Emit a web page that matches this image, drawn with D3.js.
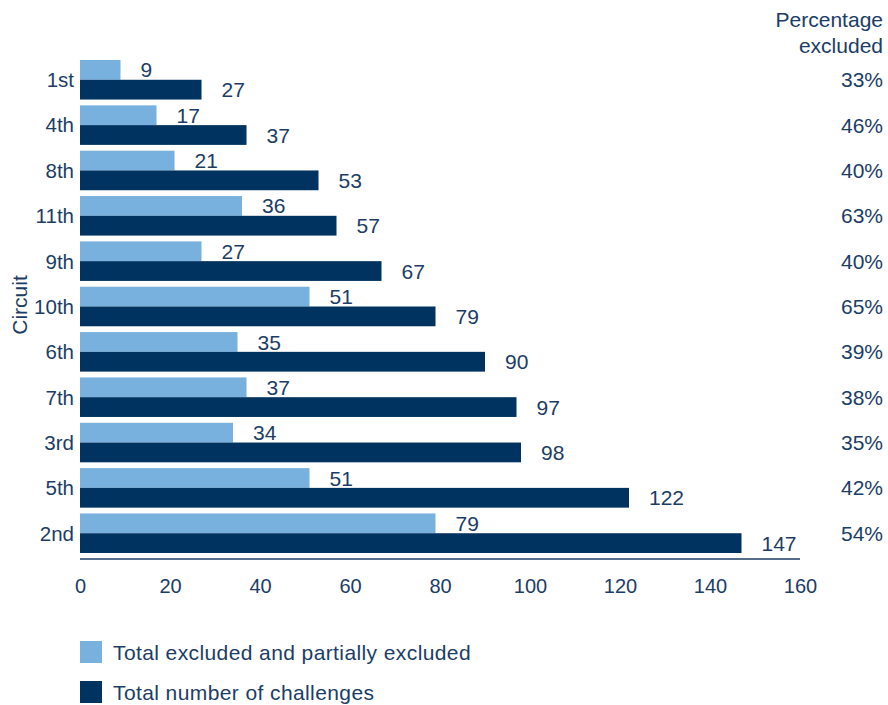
<!DOCTYPE html>
<html>
<head>
<meta charset="utf-8">
<script src="https://cdn.jsdelivr.net/npm/d3@7"></script>
<style>
  html, body { margin: 0; padding: 0; background: #fff; }
  svg { display: block; font-family: "Liberation Sans", Arial, Helvetica, sans-serif; }
</style>
</head>
<body>
<svg id="chart" width="888" height="705"></svg>
<script>
const categories = ["1st", "4th", "8th", "11th", "9th", "10th", "6th", "7th", "3rd", "5th", "2nd"];
const excluded = [9, 17, 21, 36, 27, 51, 35, 37, 34, 51, 79];
const challenges = [27, 37, 53, 57, 67, 79, 90, 97, 98, 122, 147];
const percentages = ["33%", "46%", "40%", "63%", "40%", "65%", "39%", "38%", "35%", "42%", "54%"];
const xTicks = [0, 20, 40, 60, 80, 100, 120, 140, 160];
const seriesNames = ["Total excluded and partially excluded", "Total number of challenges"];
const seriesKeys = ["excluded", "challenges"];

const colors = { excluded: "#79b1de", challenges: "#00335f" };
const textColor = "#1b3d66";

const rows = categories.map((c, i) => ({ cat: c, excluded: excluded[i], challenges: challenges[i], pct: percentages[i] }));

const svg = d3.select("#chart");

const x = d3.scaleLinear().domain([0, 160]).range([80, 800]);
const y = d3.scaleBand().domain(categories).range([60, 553]).paddingInner(0.128).paddingOuter(0);
const ySub = d3.scaleBand().domain(seriesKeys).range([0, y.bandwidth()]).padding(0);

// bars
const groups = svg.append("g").selectAll("g").data(rows).join("g")
  .attr("transform", d => `translate(0,${y(d.cat)})`);

seriesKeys.forEach(k => {
  groups.append("rect")
    .attr("x", x(0))
    .attr("y", ySub(k))
    .attr("width", d => x(d[k]) - x(0))
    .attr("height", ySub.bandwidth())
    .attr("fill", colors[k]);
  groups.append("text")
    .attr("x", d => x(d[k]) + 20)
    .attr("y", ySub(k) + ySub.bandwidth() / 2)
    .attr("dy", "0.36em")
    .attr("font-size", 21)
    .attr("fill", textColor)
    .text(d => d[k]);
});

// category labels
svg.append("g").selectAll("text").data(rows).join("text")
  .attr("x", 74)
  .attr("y", d => y(d.cat) + y.bandwidth() / 2)
  .attr("dy", "0.36em")
  .attr("text-anchor", "end")
  .attr("font-size", 20.5)
  .attr("fill", textColor)
  .text(d => d.cat);

// percentage column
svg.append("g").selectAll("text").data(rows).join("text")
  .attr("x", 883)
  .attr("y", d => y(d.cat) + y.bandwidth() / 2)
  .attr("dy", "0.36em")
  .attr("text-anchor", "end")
  .attr("font-size", 21)
  .attr("fill", textColor)
  .text(d => d.pct);

svg.append("text").attr("x", 883).attr("y", 19).attr("dy", "0.36em")
  .attr("text-anchor", "end").attr("font-size", 21).attr("fill", textColor).text("Percentage");
svg.append("text").attr("x", 883).attr("y", 45).attr("dy", "0.36em")
  .attr("text-anchor", "end").attr("font-size", 21).attr("fill", textColor).text("excluded");

// x axis
const xAxis = d3.axisBottom(x).tickValues(xTicks).tickSize(0).tickPadding(20);
const ax = svg.append("g").attr("transform", "translate(0,559)").call(xAxis);
ax.select(".domain").attr("stroke", "#1b3d66").attr("stroke-width", 1.5).attr("d", `M${x(0)},0H${x(160)}`);
ax.selectAll("text").attr("font-size", 20).attr("fill", textColor)
  .attr("font-family", "Liberation Sans, Arial, Helvetica, sans-serif");

// y axis title
svg.append("text")
  .attr("transform", "translate(19,305) rotate(-90)")
  .attr("dy", "0.36em")
  .attr("text-anchor", "middle")
  .attr("font-size", 21)
  .attr("fill", textColor)
  .text("Circuit");

// legend
const legendY = [652, 692];
seriesKeys.forEach((k, i) => {
  svg.append("rect").attr("x", 80).attr("y", legendY[i] - 11).attr("width", 22).attr("height", 22).attr("fill", colors[k]);
  svg.append("text").attr("x", 113).attr("y", legendY[i]).attr("dy", "0.36em")
    .attr("font-size", 21).attr("letter-spacing", 0.4).attr("fill", textColor).text(seriesNames[i]);
});
</script>
</body>
</html>
